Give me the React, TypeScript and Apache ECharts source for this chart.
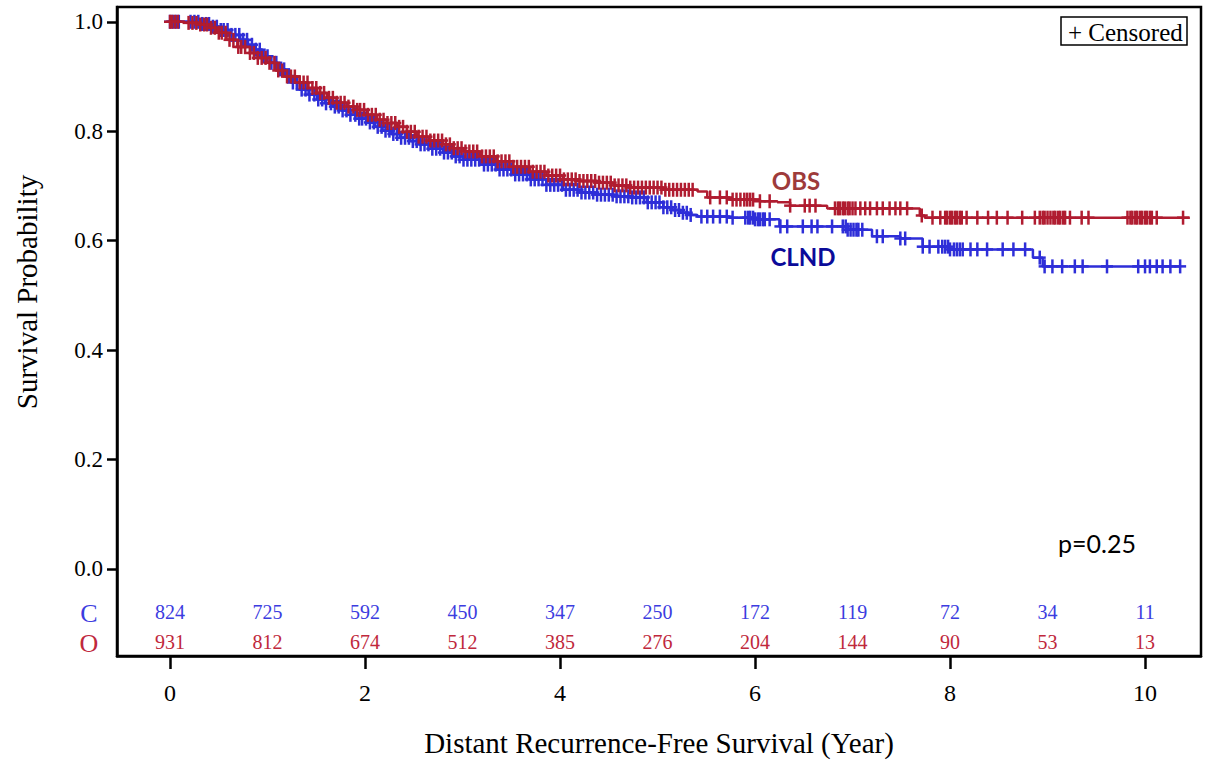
import React, { useEffect, useRef } from "react";
import * as echarts from "echarts";

// ---------- data ----------
const years = [0, 1, 2, 3, 4, 5, 6, 7, 8, 9, 10];
const atRiskCLND = [824, 725, 592, 450, 347, 250, 172, 119, 72, 34, 11];
const atRiskOBS = [931, 812, 674, 512, 385, 276, 204, 144, 90, 53, 13];
const xTicks = [0, 2, 4, 6, 8, 10];
const yTicks = [0, 0.2, 0.4, 0.6, 0.8, 1.0];

// OBS Kaplan-Meier steps: time (year) and survival after that time
const obsTimes = [0, 0.15, 0.31, 0.41, 0.48, 0.58, 0.69, 0.82, 0.9, 0.99, 1.08, 1.16, 1.33, 1.42, 1.51, 1.61, 1.71, 1.82, 1.92, 2.02, 2.12, 2.22, 2.33, 2.43, 2.53, 2.66, 2.8, 2.9, 3.01, 3.18, 3.35, 3.52, 3.69, 3.86, 4.03, 4.2, 4.38, 4.55, 4.72, 5.06, 5.41, 5.51, 5.74, 6.05, 6.23, 6.36, 6.74, 7.69, 7.74, 10.46];
const obsSurv = [1.0, 0.998, 0.995, 0.989, 0.98, 0.967, 0.954, 0.943, 0.934, 0.925, 0.911, 0.9, 0.889, 0.879, 0.87, 0.861, 0.852, 0.845, 0.839, 0.83, 0.821, 0.815, 0.808, 0.799, 0.79, 0.783, 0.776, 0.769, 0.763, 0.754, 0.745, 0.735, 0.726, 0.719, 0.712, 0.709, 0.706, 0.701, 0.697, 0.693, 0.69, 0.679, 0.675, 0.672, 0.67, 0.664, 0.659, 0.646, 0.642, 0.642];
const obsCensored = [0.0, 0.02, 0.05, 0.08, 0.19, 0.23, 0.27, 0.31, 0.35, 0.38, 0.42, 0.46, 0.5, 0.53, 0.57, 0.61, 0.65, 0.7, 0.73, 0.77, 0.82, 0.86, 0.9, 0.94, 0.98, 1.02, 1.07, 1.11, 1.15, 1.2, 1.24, 1.28, 1.33, 1.37, 1.41, 1.46, 1.5, 1.54, 1.58, 1.63, 1.67, 1.71, 1.75, 1.79, 1.83, 1.88, 1.92, 1.95, 1.99, 2.03, 2.07, 2.11, 2.15, 2.19, 2.23, 2.27, 2.31, 2.35, 2.39, 2.43, 2.47, 2.51, 2.55, 2.59, 2.63, 2.67, 2.71, 2.75, 2.79, 2.83, 2.87, 2.91, 2.95, 2.99, 3.03, 3.07, 3.11, 3.15, 3.2, 3.24, 3.28, 3.32, 3.36, 3.4, 3.44, 3.48, 3.52, 3.56, 3.6, 3.64, 3.68, 3.72, 3.76, 3.8, 3.84, 3.88, 3.92, 3.96, 4.0, 4.04, 4.08, 4.12, 4.16, 4.2, 4.24, 4.28, 4.32, 4.36, 4.4, 4.44, 4.48, 4.52, 4.56, 4.6, 4.64, 4.68, 4.72, 4.76, 4.8, 4.84, 4.88, 4.92, 4.96, 5.0, 5.04, 5.08, 5.12, 5.16, 5.2, 5.24, 5.28, 5.32, 5.36, 5.54, 5.64, 5.71, 5.77, 5.81, 5.85, 5.89, 5.92, 5.95, 5.98, 6.05, 6.15, 6.36, 6.51, 6.56, 6.62, 6.82, 6.85, 6.87, 6.9, 6.92, 6.95, 6.97, 7.0, 7.03, 7.08, 7.13, 7.18, 7.25, 7.31, 7.38, 7.44, 7.49, 7.56, 7.71, 7.82, 7.9, 7.95, 7.97, 8.0, 8.02, 8.05, 8.07, 8.1, 8.12, 8.17, 8.28, 8.39, 8.48, 8.59, 8.74, 8.87, 8.92, 8.95, 8.97, 9.0, 9.03, 9.06, 9.08, 9.11, 9.13, 9.16, 9.18, 9.23, 9.35, 9.42, 9.82, 9.85, 9.87, 9.9, 9.92, 9.95, 9.97, 10.0, 10.02, 10.05, 10.07, 10.12, 10.39];

// CLND Kaplan-Meier steps
const clndTimes = [0, 0.31, 0.41, 0.51, 0.62, 0.72, 0.8, 0.87, 0.95, 1.03, 1.1, 1.18, 1.25, 1.33, 1.42, 1.51, 1.59, 1.67, 1.76, 1.85, 1.94, 2.02, 2.1, 2.18, 2.27, 2.36, 2.46, 2.56, 2.68, 2.8, 2.9, 3.01, 3.18, 3.35, 3.52, 3.69, 3.86, 4.03, 4.2, 4.38, 4.55, 4.72, 4.89, 5.06, 5.15, 5.23, 5.32, 5.41, 5.74, 6.0, 6.25, 6.95, 7.2, 7.49, 7.72, 8.0, 8.85, 8.95, 10.36];
const clndSurv = [1.0, 0.996, 0.991, 0.985, 0.976, 0.967, 0.958, 0.949, 0.937, 0.925, 0.913, 0.901, 0.889, 0.876, 0.867, 0.858, 0.851, 0.845, 0.838, 0.83, 0.823, 0.816, 0.808, 0.801, 0.795, 0.788, 0.782, 0.776, 0.768, 0.761, 0.754, 0.748, 0.739, 0.73, 0.721, 0.712, 0.702, 0.693, 0.688, 0.684, 0.681, 0.679, 0.67, 0.661, 0.656, 0.651, 0.647, 0.644, 0.642, 0.639, 0.626, 0.62, 0.608, 0.604, 0.589, 0.584, 0.569, 0.553, 0.553];
const clndCensored = [0.0, 0.03, 0.06, 0.09, 0.21, 0.25, 0.29, 0.33, 0.37, 0.4, 0.44, 0.48, 0.52, 0.55, 0.59, 0.63, 0.67, 0.71, 0.75, 0.79, 0.84, 0.88, 0.92, 0.96, 1.0, 1.04, 1.09, 1.13, 1.17, 1.22, 1.26, 1.3, 1.35, 1.39, 1.43, 1.48, 1.52, 1.56, 1.6, 1.65, 1.69, 1.73, 1.77, 1.81, 1.85, 1.9, 1.94, 1.97, 2.01, 2.05, 2.09, 2.13, 2.17, 2.21, 2.25, 2.29, 2.33, 2.37, 2.41, 2.45, 2.49, 2.53, 2.57, 2.61, 2.65, 2.69, 2.73, 2.77, 2.81, 2.85, 2.89, 2.93, 2.97, 3.01, 3.05, 3.09, 3.13, 3.17, 3.22, 3.26, 3.3, 3.34, 3.38, 3.42, 3.46, 3.5, 3.54, 3.58, 3.62, 3.66, 3.7, 3.74, 3.78, 3.82, 3.86, 3.9, 3.94, 3.98, 4.02, 4.06, 4.1, 4.14, 4.18, 4.22, 4.26, 4.3, 4.34, 4.38, 4.42, 4.46, 4.5, 4.54, 4.58, 4.62, 4.66, 4.7, 4.74, 4.78, 4.82, 4.86, 4.9, 4.94, 4.98, 5.02, 5.06, 5.1, 5.14, 5.18, 5.22, 5.26, 5.3, 5.34, 5.45, 5.51, 5.57, 5.64, 5.71, 5.77, 5.9, 5.93, 5.95, 5.98, 6.0, 6.03, 6.05, 6.08, 6.1, 6.15, 6.26, 6.33, 6.49, 6.58, 6.64, 6.79, 6.9, 6.93, 6.95, 6.98, 7.01, 7.04, 7.06, 7.1, 7.25, 7.31, 7.49, 7.54, 7.72, 7.79, 7.88, 7.92, 7.95, 7.98, 8.0, 8.04, 8.07, 8.1, 8.13, 8.21, 8.28, 8.38, 8.54, 8.65, 8.77, 8.92, 8.97, 9.05, 9.15, 9.28, 9.36, 9.61, 9.93, 10.0, 10.05, 10.12, 10.18, 10.26, 10.36];

// ---------- styling constants ----------
const SERIF = '"Liberation Serif", "Times New Roman", serif';
const SANS = 'Lato, "Open Sans", sans-serif';
const RED = "#b01c30";
const BLUE = "#2e2ed8";
const RED_TXT = "#c0283c";
const BLUE_TXT = "#3c3ce0";
const ROW_C = -0.0785;
const ROW_O = -0.133;

function survAt(times: number[], surv: number[], t: number) {
  let v = surv[0];
  for (let i = 0; i < times.length; i++) {
    if (times[i] <= t + 1e-9) v = surv[i];
    else break;
  }
  return v;
}

function censorSeries(name: string, times: number[], surv: number[], cens: number[], color: string, z: number) {
  return {
    name,
    type: "custom",
    data: cens.map((t) => [t, survAt(times, surv, t)]),
    renderItem: (_p: any, api: any) => {
      const c = api.coord([api.value(0), api.value(1)]);
      return {
        type: "group",
        children: [
          { type: "line", shape: { x1: c[0] - 6, y1: c[1], x2: c[0] + 6, y2: c[1] }, style: { stroke: color, lineWidth: 2.5 } },
          { type: "line", shape: { x1: c[0], y1: c[1] - 7, x2: c[0], y2: c[1] + 7 }, style: { stroke: color, lineWidth: 2.5 } },
        ],
      };
    },
    z,
  };
}

function atRiskSeries(name: string, counts: number[], rowY: number, color: string) {
  return {
    name,
    type: "custom",
    data: years.map((y, i) => [y, rowY, counts[i]]),
    renderItem: (_p: any, api: any) => {
      const c = api.coord([api.value(0), api.value(1)]);
      return {
        type: "text",
        x: c[0],
        y: c[1],
        style: { text: String(api.value(2)), fill: color, font: `20px ${SERIF}`, align: "center", verticalAlign: "middle" },
      };
    },
    z: 6,
  };
}

export default function App() {
  const ref = useRef<HTMLDivElement>(null);
  useEffect(() => {
    if (!ref.current) return;
    const chart = echarts.init(ref.current, undefined, { renderer: "svg" });
    const option: any = {
      animation: false,
      backgroundColor: "#fff",
      grid: { left: 117, top: 7, right: 7, bottom: 105, show: true, borderColor: "#000", borderWidth: 2.5, backgroundColor: "transparent" },
      xAxis: {
        type: "value",
        min: -0.544,
        max: 10.574,
        axisLine: { show: true, onZero: false, lineStyle: { color: "#000", width: 2.5 } },
        axisTick: { show: true, customValues: xTicks, length: 13, lineStyle: { color: "#000", width: 2.5 } },
        axisLabel: { customValues: xTicks, color: "#000", fontFamily: SERIF, fontSize: 24, margin: 25, formatter: (v: number) => String(v) },
        splitLine: { show: false },
        name: "Distant Recurrence-Free Survival (Year)",
        nameLocation: "middle",
        nameGap: 72,
        nameTextStyle: { color: "#000", fontFamily: SERIF, fontSize: 29 },
      },
      yAxis: {
        type: "value",
        min: -0.159,
        max: 1.027,
        axisLine: { show: true, onZero: false, lineStyle: { color: "#000", width: 2.5 } },
        axisTick: { show: true, customValues: yTicks, length: 10, lineStyle: { color: "#000", width: 2.5 } },
        axisLabel: { customValues: yTicks, color: "#000", fontFamily: SERIF, fontSize: 23, margin: 14, formatter: (v: number) => v.toFixed(1) },
        splitLine: { show: false },
      },
      graphic: [
        { type: "text", x: 27, y: 292, rotation: Math.PI / 2, style: { text: "Survival Probability", font: `29px ${SERIF}`, fill: "#000", align: "center", verticalAlign: "middle" } },
        { type: "text", x: 89, y: 613, style: { text: "C", font: `26px ${SERIF}`, fill: BLUE_TXT, align: "center", verticalAlign: "middle" } },
        { type: "text", x: 89, y: 643, style: { text: "O", font: `26px ${SERIF}`, fill: RED_TXT, align: "center", verticalAlign: "middle" } },
        { type: "rect", shape: { x: 1061, y: 17, width: 126, height: 28 }, style: { fill: "#fff", stroke: "#000", lineWidth: 1.5 }, z: 10 },
        { type: "text", x: 1068, y: 32, style: { text: "+ Censored", font: `25px ${SERIF}`, fill: "#000", align: "left", verticalAlign: "middle" }, z: 11 },
        { type: "text", x: 1097, y: 543, style: { text: "p=0.25", font: `25px ${SANS}`, fill: "#000", align: "center", verticalAlign: "middle" } },
        { type: "text", x: 796, y: 180, style: { text: "OBS", font: `bold 24px ${SANS}`, fill: "#9e3b3b", align: "center", verticalAlign: "middle" } },
        { type: "text", x: 803, y: 256, style: { text: "CLND", font: `bold 24px ${SANS}`, fill: "#0b0b99", align: "center", verticalAlign: "middle" } },
      ],
      series: [
        {
          name: "CLND",
          type: "line",
          step: "end",
          showSymbol: false,
          data: clndTimes.map((t, i) => [t, clndSurv[i]]),
          lineStyle: { color: BLUE, width: 2.5 },
          z: 2,
        },
        censorSeries("CLND censored", clndTimes, clndSurv, clndCensored, BLUE, 3),
        {
          name: "OBS",
          type: "line",
          step: "end",
          showSymbol: false,
          data: obsTimes.map((t, i) => [t, obsSurv[i]]),
          lineStyle: { color: RED, width: 2.5 },
          z: 4,
        },
        censorSeries("OBS censored", obsTimes, obsSurv, obsCensored, RED, 5),
        atRiskSeries("CLND at risk", atRiskCLND, ROW_C, BLUE_TXT),
        atRiskSeries("OBS at risk", atRiskOBS, ROW_O, RED_TXT),
      ],
    };
    chart.setOption(option);
    return () => chart.dispose();
  }, []);
  return <div ref={ref} style={{ position: "fixed", left: 0, top: 0, width: 1208, height: 762 }} />;
}
